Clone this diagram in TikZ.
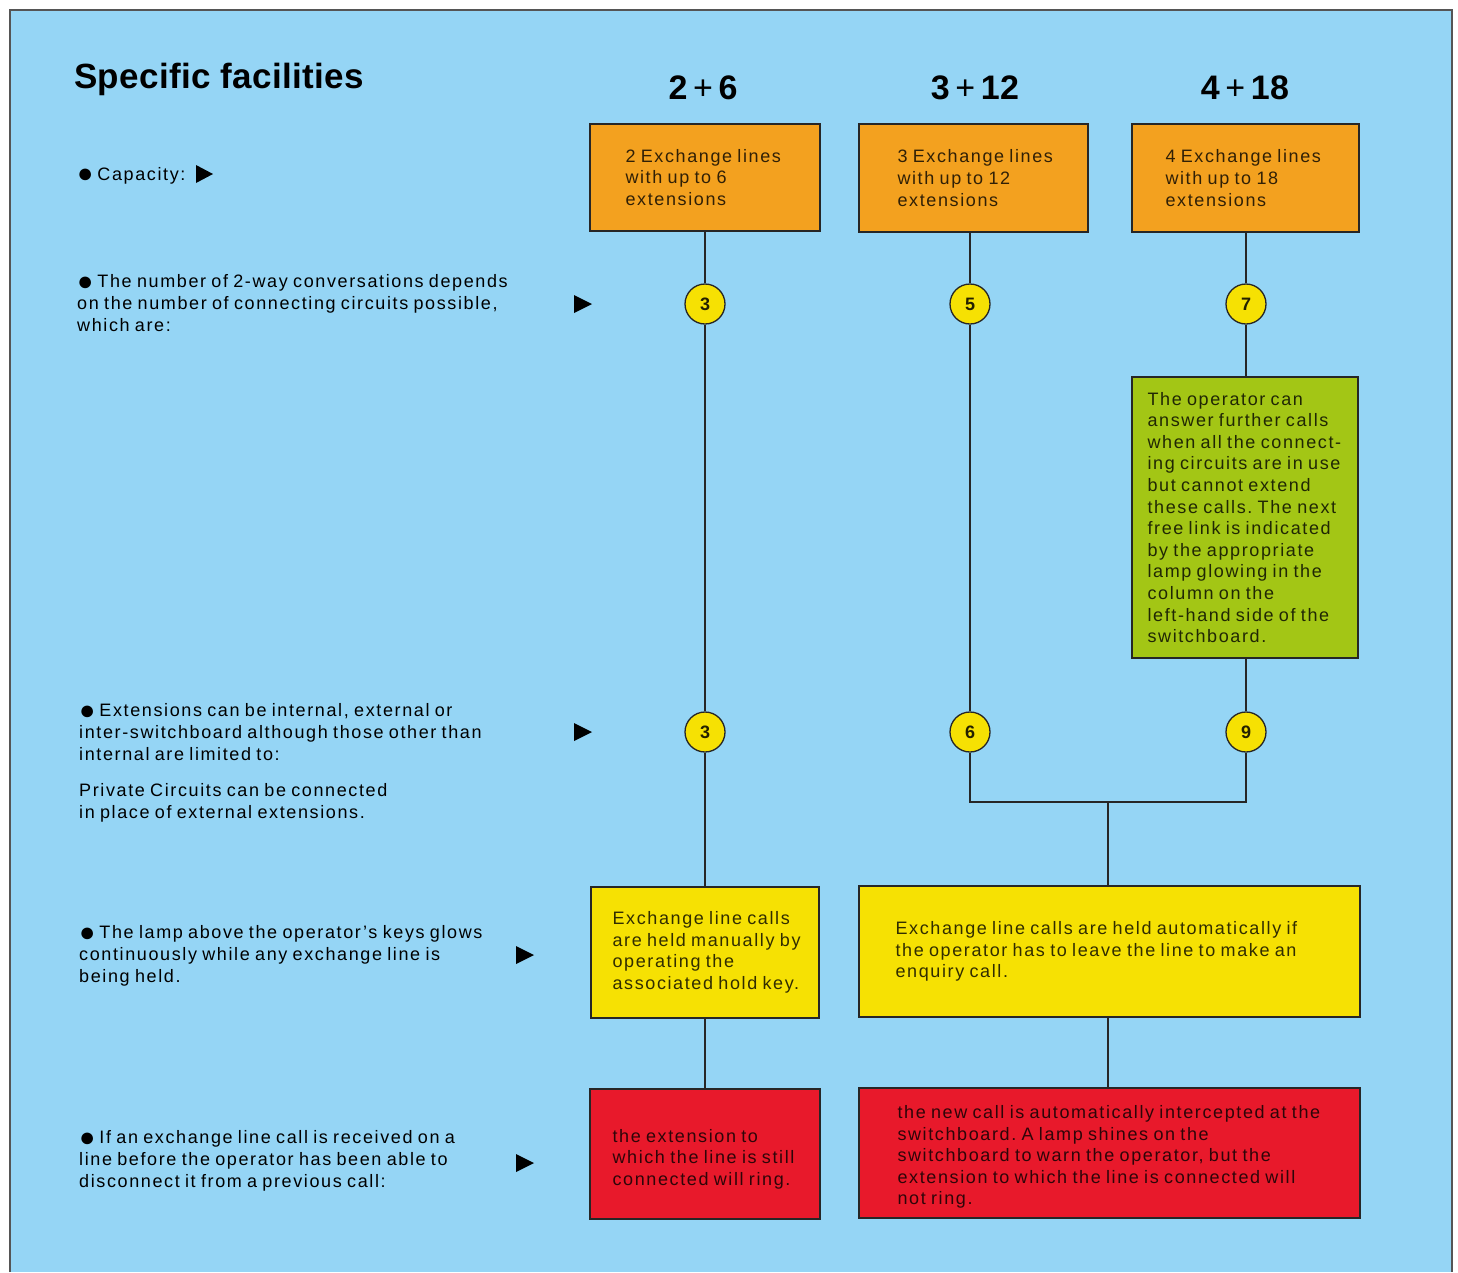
\documentclass[tikz,border=0pt]{standalone}
\usepackage{fontspec}
\usepackage{graphicx}
\setmainfont{Liberation Sans}
\newfontfamily\bodyfont[LetterSpace=9,WordSpace=0.8]{Liberation Sans}
\newfontfamily\titlefont[LetterSpace=1]{Liberation Sans}
\newcommand\blt{\raisebox{-0.13em}{\scalebox{1.5}{●}}\hspace{0.22em}}
\newcommand\hplus{\,{\mdseries +}\,}
\frenchspacing
\definecolor{bgblue}{HTML}{95D5F5}
\definecolor{orangebox}{HTML}{F3A11F}
\definecolor{greenbox}{HTML}{A3C615}
\definecolor{yellowbox}{HTML}{F6E103}
\definecolor{redbox}{HTML}{E8192B}
\definecolor{frame}{HTML}{555555}
\tikzset{
  box/.style={draw=black!85, line width=1.4pt, inner sep=0pt},
  obox/.style={box, fill=orangebox},
  gbox/.style={box, fill=greenbox},
  ybox/.style={box, fill=yellowbox},
  rbox/.style={box, fill=redbox},
  num/.style={circle, draw=black!85, line width=1.3pt, fill=yellowbox, minimum size=40pt, inner sep=0pt,
    font=\bfseries\fontsize{18}{20}\selectfont, text opacity=0.85},
  boxtext/.style={anchor=west, align=left, inner sep=0pt, font=\bodyfont\fontsize{18}{21.6}\selectfont\frenchspacing, text opacity=0.8},
  lefttext/.style={anchor=base west, align=left, inner sep=0pt, font=\bodyfont\fontsize{18}{21.6}\selectfont\frenchspacing},
  head/.style={inner sep=0pt, font=\titlefont\bfseries\fontsize{34}{40}\selectfont},
  conn/.style={draw=black!85, line width=1.3pt},
  marker/.style={fill=black}
}
\begin{document}
\begin{tikzpicture}[x=1pt,y=-1pt]
\useasboundingbox (0,0) rectangle (1458,1272);
\fill[white] (0,0) rectangle (1458,1272);
\fill[bgblue] (10,10) rectangle (1452,1272);
\draw[frame, line width=1.6pt] (10,1272) -- (10,10) -- (1452,10) -- (1452,1272);

% title and headers
\node[anchor=base west, inner sep=0pt, font=\titlefont\bfseries\fontsize{35}{40}\selectfont] (title) at (74,88) {Specific facilities};
\node[head] (h1) at (703,88) {2\hplus 6};
\node[head] (h2) at (975,88) {3\hplus 12};
\node[head] (h3) at (1245,88) {4\hplus 18};

% orange boxes
\node[obox, minimum width=230, minimum height=107] (o1) at (705,177.5) {};
\node[obox, minimum width=229, minimum height=108] (o2) at (973.5,178) {};
\node[obox, minimum width=227, minimum height=108] (o3) at (1245.5,178) {};
\node[boxtext] (o1t) at ([xshift=36]o1.west) {2 Exchange lines\\with up to 6\\extensions};
\node[boxtext] (o2t) at ([xshift=39]o2.west) {3 Exchange lines\\with up to 12\\extensions};
\node[boxtext] (o3t) at ([xshift=34]o3.west) {4 Exchange lines\\with up to 18\\extensions};

% circles row 1
\node[num] (c1) at (705,304) {3};
\node[num] (c2) at (970,304) {5};
\node[num] (c3) at (1246,304) {7};

% green box
\node[gbox, minimum width=226, minimum height=281] (g) at (1245,517.5) {};
\node[boxtext] (gt) at ([xshift=16]g.west) {The operator can\\answer further calls\\when all the connect-\\ing circuits are in use\\but cannot extend\\these calls. The next\\free link is indicated\\by the appropriate\\lamp glowing in the\\column on the\\left-hand side of the\\switchboard.};

% circles row 2
\node[num] (c4) at (705,732) {3};
\node[num] (c5) at (970,732) {6};
\node[num] (c6) at (1246,732) {9};

% yellow boxes
\node[ybox, minimum width=228, minimum height=131] (y1) at (705,952.5) {};
\node[ybox, minimum width=501, minimum height=131] (y2) at (1109.5,951.5) {};
\node[boxtext] (y1t) at ([xshift=22]y1.west) {Exchange line calls\\are held manually by\\operating the\\associated hold key.};
\node[boxtext] (y2t) at ([xshift=37]y2.west) {Exchange line calls are held automatically if\\the operator has to leave the line to make an\\enquiry call.};

% red boxes
\node[rbox, minimum width=230, minimum height=130] (r1) at (705,1154) {};
\node[rbox, minimum width=501, minimum height=130] (r2) at (1109.5,1153) {};
\node[boxtext] (r1t) at ([xshift=23,yshift=-5]r1.west) {the extension to\\which the line is still\\connected will ring.};
\node[boxtext] (r2t) at ([xshift=39,yshift=-4]r2.west) {the new call is automatically intercepted at the\\switchboard. A lamp shines on the\\switchboard to warn the operator, but the\\extension to which the line is connected will\\not ring.};

% connectors column 1
\draw[conn] (o1) -- (c1);
\draw[conn] (c1) -- (c4);
\draw[conn] (c4) -- (y1);
\draw[conn] (y1) -- (r1);
% column 2
\draw[conn] (c2 |- o2.south) -- (c2);
\draw[conn] (c2) -- (c5);
% column 3
\draw[conn] (c3 |- o3.south) -- (c3);
\draw[conn] (c3) -- (c3 |- g.north);
\draw[conn] (c6 |- g.south) -- (c6);
% join
\coordinate (j) at (1108,802);
\draw[conn] (c5) |- (j) -| (c6);
\draw[conn] (j) -- (j |- y2.north);
\draw[conn] (j |- y2.south) -- (j |- r2.north);

% left texts (anchored at the baseline of the last line)
\node[lefttext] (l1) at (77,180) {\blt Capacity:};
\node[lefttext] (l2) at (77,331) {\blt The number of 2-way conversations depends\\on the number of connecting circuits possible,\\which are:};
\node[lefttext] (l3) at (79,760) {\blt Extensions can be internal, external or\\inter-switchboard although those other than\\internal are limited to:};
\node[lefttext] (l4) at (79,818) {Private Circuits can be connected\\in place of external extensions.};
\node[lefttext] (l5) at (79,982) {\blt The lamp above the operator’s keys glows\\continuously while any exchange line is\\being held.};
\node[lefttext] (l6) at (79,1187) {\blt If an exchange line call is received on a\\line before the operator has been able to\\disconnect it from a previous call:};

% markers
\fill[marker] (196,165) -- (213,174) -- (196,183) -- cycle;
\fill[marker] (574,295) -- (592,304) -- (574,313) -- cycle;
\fill[marker] (574,723) -- (592,732) -- (574,741) -- cycle;
\fill[marker] (516,946) -- (534,955) -- (516,964) -- cycle;
\fill[marker] (516,1154) -- (534,1163) -- (516,1172) -- cycle;
\end{tikzpicture}
\end{document}
